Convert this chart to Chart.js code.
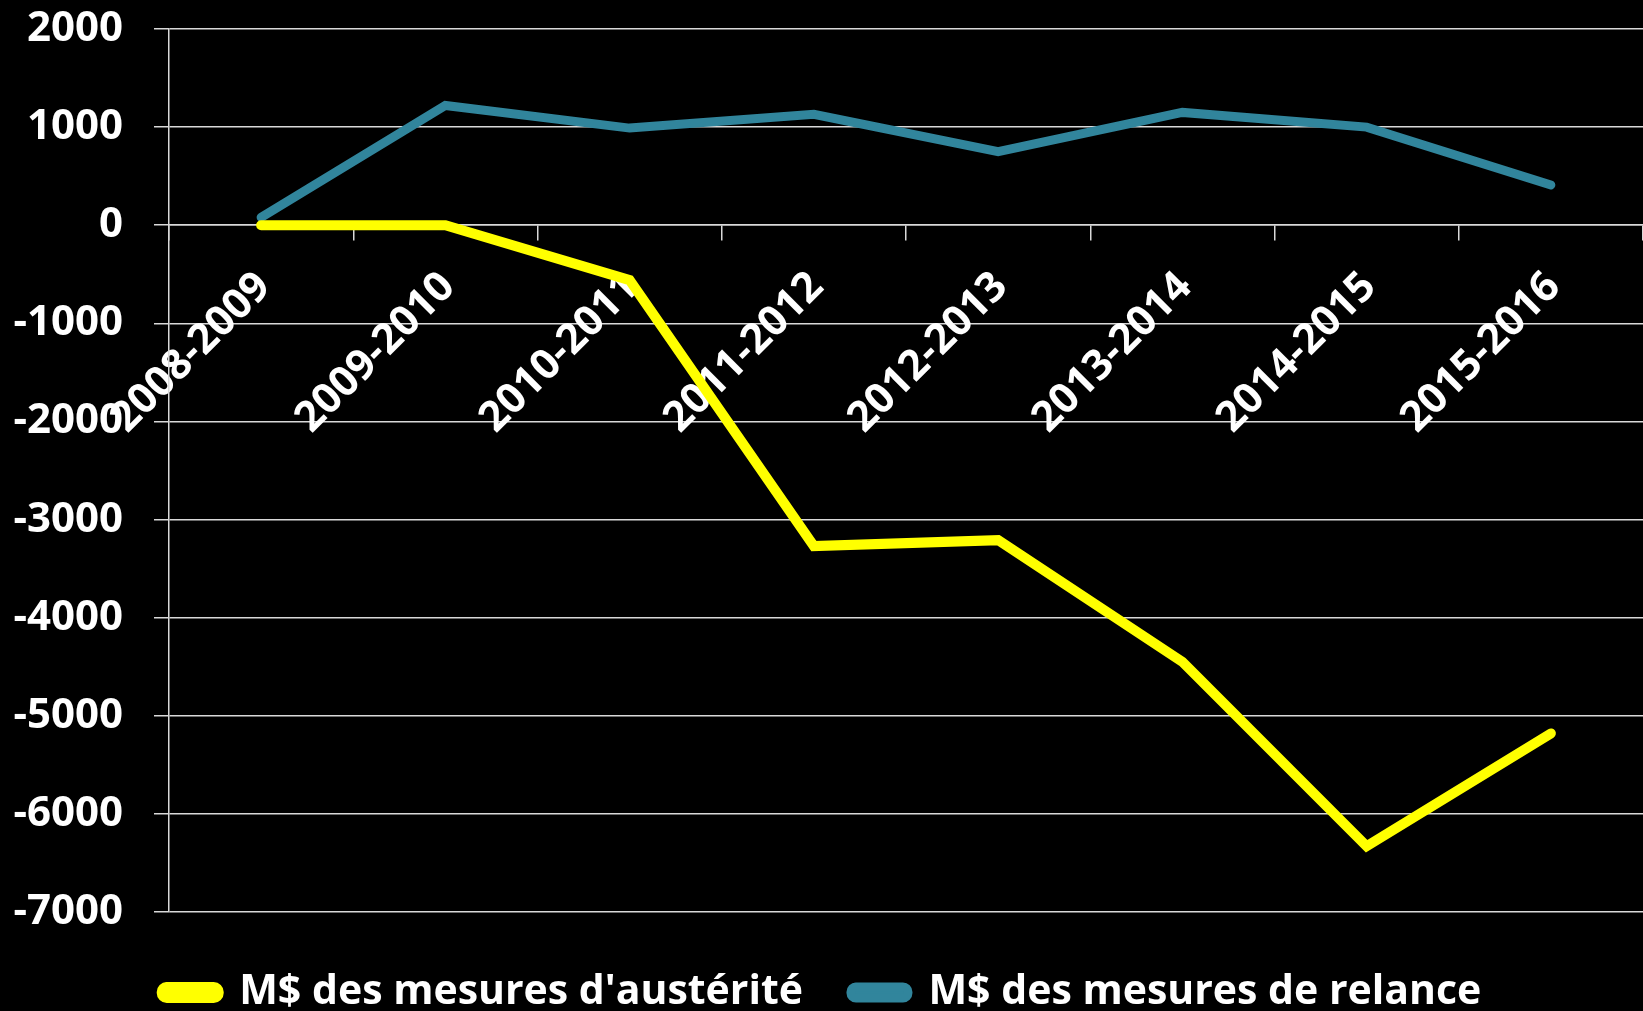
<!DOCTYPE html>
<html>
<head>
<meta charset="utf-8">
<script src="https://cdn.jsdelivr.net/npm/chart.js@4/dist/chart.umd.min.js"></script>
<style>
  html, body { margin: 0; padding: 0; background: #000; }
  canvas { display: block; }
</style>
</head>
<body>
<canvas id="myChart" width="1643" height="1011"></canvas>
<script>
// -- data
var periods = ['2008-2009', '2009-2010', '2010-2011', '2011-2012',
               '2012-2013', '2013-2014', '2014-2015', '2015-2016'];
var austerite = [0, 0, -560, -3270, -3210, -4450, -6330, -5180];
var relance = [80, 1220, 990, 1130, 750, 1150, 1000, 410];
var seriesNames = ["M$ des mesures d'austérité", 'M$ des mesures de relance'];
var yMin = -7000, yMax = 2000, yStep = 1000;

var gridColor = '#d9d9d9';
var fontFamily = '"Open Sans", "Noto Sans", sans-serif';

var ctx = document.getElementById('myChart');

var myChart = new Chart(ctx, {
  type: 'line',
  data: {
    labels: periods,
    datasets: [{
      label: seriesNames[0],
      data: austerite,
      borderColor: '#ffff00',
      backgroundColor: '#ffff00',
      borderWidth: 10,
      borderCapStyle: 'round',
      pointRadius: 0,
      tension: 0
    }, {
      label: seriesNames[1],
      data: relance,
      borderColor: '#31859c',
      backgroundColor: '#31859c',
      borderWidth: 9,
      borderCapStyle: 'round',
      pointRadius: 0,
      tension: 0
    }]
  },
  options: {
    responsive: false,
    animation: false,
    events: [],
    layout: { padding: { top: 29, right: 0, left: 0, bottom: -12 } },
    scales: {
      x: {
        position: { y: 0 },
        offset: true,
        grid: {
          offset: true,
          drawOnChartArea: false,
          color: gridColor,
          lineWidth: 1.5,
          tickLength: 15
        },
        border: { display: true, color: gridColor, width: 1.5 },
        ticks: {
          color: '#fff',
          font: { family: fontFamily, size: 42, weight: 'bold' },
          minRotation: 45,
          maxRotation: 45,
          autoSkip: false,
          padding: 22,
          labelOffset: 3
        },
        afterFit: function (scale) { scale.height = 0; }
      },
      y: {
        min: yMin,
        max: yMax,
        grid: {
          color: gridColor,
          lineWidth: 1.5,
          tickLength: 15
        },
        border: { display: true, color: gridColor, width: 1.5 },
        ticks: {
          stepSize: yStep,
          color: '#fff',
          padding: 31,
          font: { family: fontFamily, size: 42, weight: 'bold' },
          callback: function (value) { return String(value); }
        },
        afterFit: function (scale) {
          scale.width = 169;
          scale.paddingTop = 0;
          scale.paddingBottom = 0;
        }
      }
    },
    plugins: {
      tooltip: { enabled: false },
      legend: {
        position: 'bottom',
        title: { display: true, text: '', padding: 3, font: { size: 5 } },
        labels: {
          color: '#fff',
          font: { family: fontFamily, size: 41, weight: 'bold' },
          boxWidth: 57,
          boxHeight: 11,
          padding: 48,
          useBorderRadius: true,
          borderRadius: 5
        }
      }
    }
  }
});
</script>
</body>
</html>
